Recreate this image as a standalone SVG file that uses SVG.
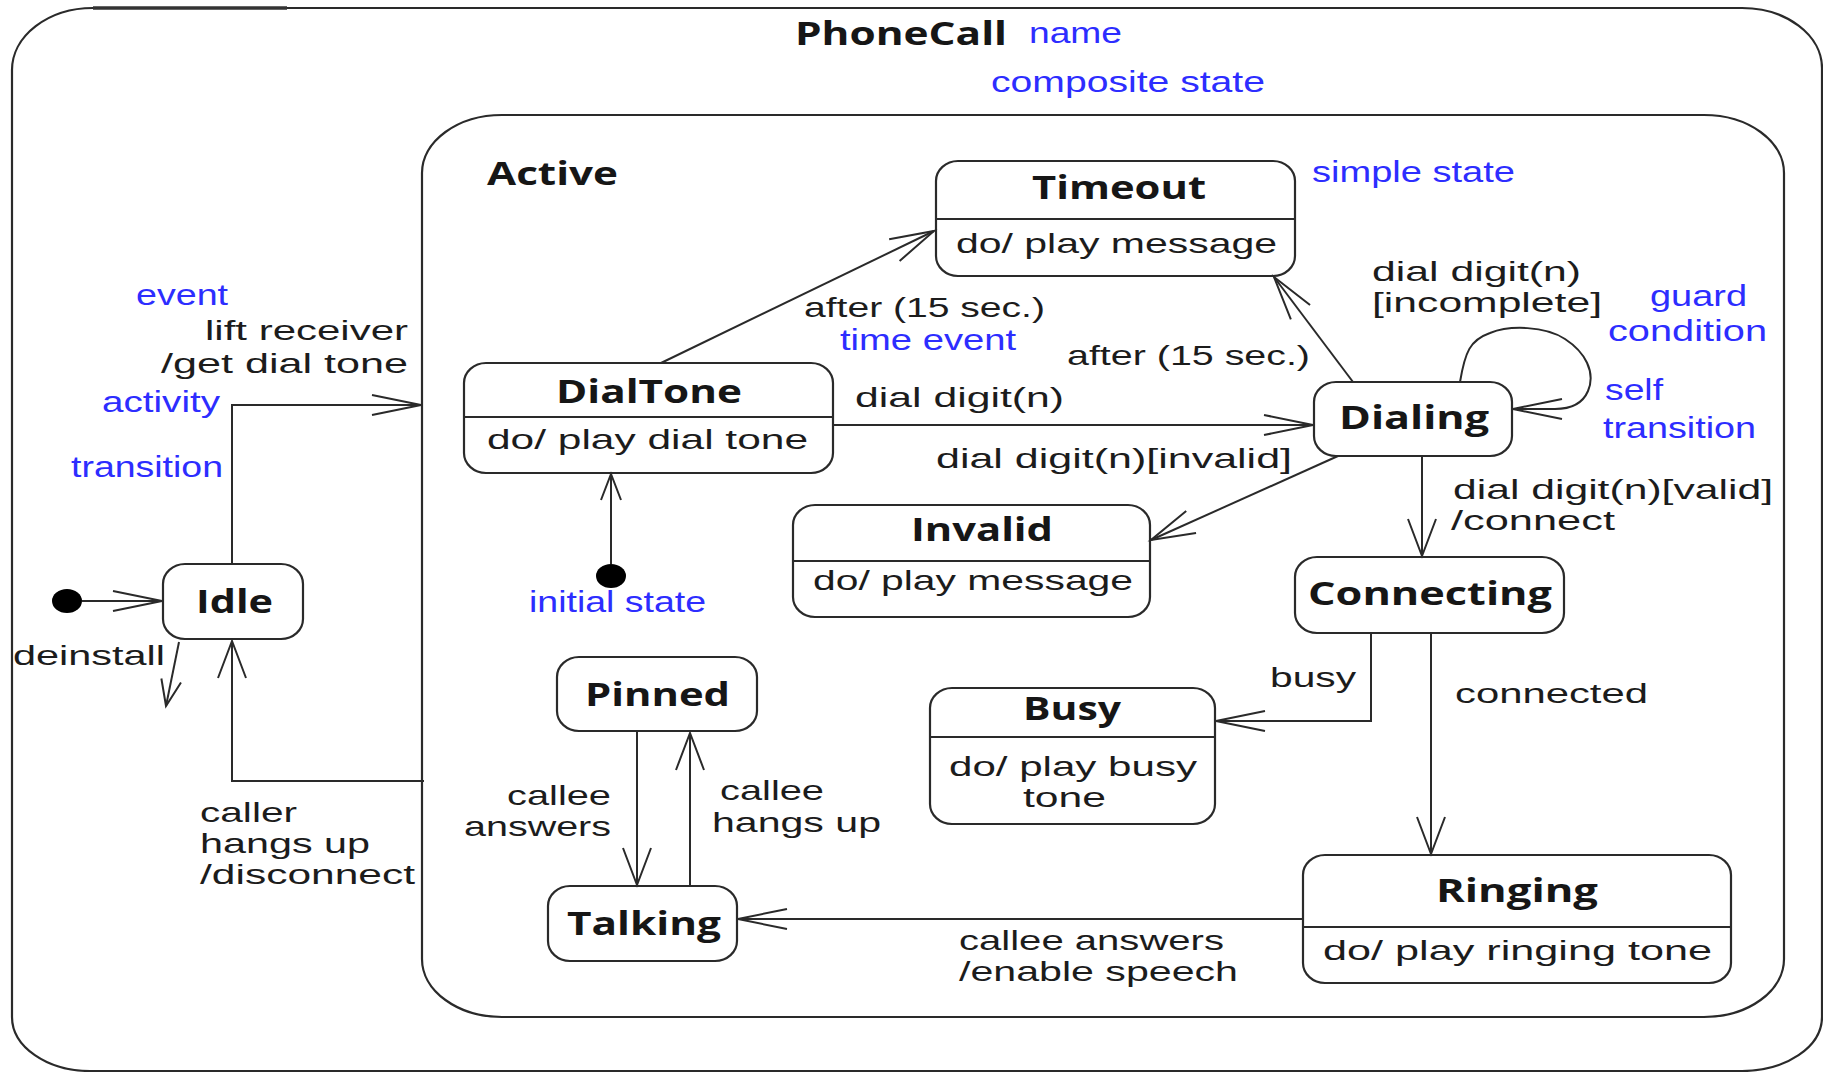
<svg xmlns="http://www.w3.org/2000/svg" width="1823" height="1072" viewBox="0 0 1823 1072">
<style>
  .box { fill: #ffffff; stroke: #2a2a2a; stroke-width: 2.2; }
  .div { stroke: #2a2a2a; stroke-width: 2; fill: none; }
  .edge { fill: none; stroke: #2a2a2a; stroke-width: 2; }
  .dot { fill: #000000; }
  .nm { font-family: "Open Sans", "Noto Sans", "DejaVu Sans", sans-serif; font-size: 32px; font-weight: bold; fill: #161616; }
  .lb { font-family: "Liberation Sans", "DejaVu Sans", sans-serif; font-size: 27.5px; fill: #1c1c1c; }
  .bl { font-family: "Liberation Sans", "DejaVu Sans", sans-serif; font-size: 29px; fill: #2d2dff; }
</style>
<defs>
  <marker id="arrH" markerUnits="userSpaceOnUse" markerWidth="60" markerHeight="30" viewBox="-52 -15 56 30" refX="0" refY="0" orient="auto">
    <path d="M-49,-10 L0,0 L-49,10" fill="none" stroke="#2a2a2a" stroke-width="2"/>
  </marker>
  <marker id="arrV" markerUnits="userSpaceOnUse" markerWidth="46" markerHeight="36" viewBox="-42 -18 46 36" refX="0" refY="0" orient="auto">
    <path d="M-37,-14 L0,0 L-37,14" fill="none" stroke="#2a2a2a" stroke-width="2"/>
  </marker>
  <marker id="arrD" markerUnits="userSpaceOnUse" markerWidth="52" markerHeight="32" viewBox="-48 -16 52 32" refX="0" refY="0" orient="auto">
    <path d="M-44,-12 L0,0 L-44,12" fill="none" stroke="#2a2a2a" stroke-width="2"/>
  </marker>
  <marker id="arrS" markerUnits="userSpaceOnUse" markerWidth="34" markerHeight="28" viewBox="-30 -14 34 28" refX="0" refY="0" orient="auto">
    <path d="M-26,-10 L0,0 L-26,10" fill="none" stroke="#2a2a2a" stroke-width="2"/>
  </marker>
</defs>

<rect x="0" y="0" width="1823" height="1072" fill="#ffffff"/>

<g id="phonecall">
  <path class="box" d="M93,8 H1742 A80,60 0 0 1 1822,68 V1017 A80,54 0 0 1 1742,1071 H90 A78,54 0 0 1 12,1017 V70 A81,62 0 0 1 93,8 Z"/>
  <line x1="93" y1="8" x2="287" y2="8" stroke="#333333" stroke-width="3.5"/>
  <text class="nm" x="795" y="45" textLength="212" lengthAdjust="spacingAndGlyphs">PhoneCall</text>
</g>

<g id="active">
  <rect class="box" x="422" y="115" width="1362" height="902" rx="80" ry="58"/>
  <text class="nm" x="487" y="185" textLength="131" lengthAdjust="spacingAndGlyphs">Active</text>
</g>

<g id="timeout">
  <rect class="box" x="936" y="161" width="359" height="115" rx="22" ry="20"/>
  <line class="div" x1="936" y1="219" x2="1295" y2="219"/>
  <text class="nm" x="1032" y="199" textLength="174" lengthAdjust="spacingAndGlyphs">Timeout</text>
  <text class="lb" x="956" y="253" textLength="321" lengthAdjust="spacingAndGlyphs">do/ play message</text>
</g>

<g id="dialtone">
  <rect class="box" x="464" y="363" width="369" height="110" rx="22" ry="20"/>
  <line class="div" x1="464" y1="417" x2="833" y2="417"/>
  <text class="nm" x="556" y="403" textLength="186" lengthAdjust="spacingAndGlyphs">DialTone</text>
  <text class="lb" x="487" y="449" textLength="321" lengthAdjust="spacingAndGlyphs">do/ play dial tone</text>
</g>

<g id="dialing">
  <rect class="box" x="1314" y="382" width="198" height="74" rx="22" ry="20"/>
  <text class="nm" x="1339" y="429" textLength="150" lengthAdjust="spacingAndGlyphs">Dialing</text>
</g>

<g id="invalid">
  <rect class="box" x="793" y="505" width="357" height="112" rx="22" ry="20"/>
  <line class="div" x1="793" y1="561" x2="1150" y2="561"/>
  <text class="nm" x="911" y="541" textLength="142" lengthAdjust="spacingAndGlyphs">Invalid</text>
  <text class="lb" x="813" y="590" textLength="320" lengthAdjust="spacingAndGlyphs">do/ play message</text>
</g>

<g id="connecting">
  <rect class="box" x="1295" y="557" width="269" height="76" rx="22" ry="20"/>
  <text class="nm" x="1308" y="605" textLength="244" lengthAdjust="spacingAndGlyphs">Connecting</text>
</g>

<g id="idle">
  <rect class="box" x="163" y="564" width="140" height="75" rx="22" ry="20"/>
  <text class="nm" x="196" y="613" textLength="77" lengthAdjust="spacingAndGlyphs">Idle</text>
</g>

<g id="pinned">
  <rect class="box" x="557" y="657" width="200" height="74" rx="22" ry="20"/>
  <text class="nm" x="585" y="706" textLength="145" lengthAdjust="spacingAndGlyphs">Pinned</text>
</g>

<g id="talking">
  <rect class="box" x="548" y="886" width="189" height="75" rx="22" ry="20"/>
  <text class="nm" x="567" y="935" textLength="154" lengthAdjust="spacingAndGlyphs">Talking</text>
</g>

<g id="busy">
  <rect class="box" x="930" y="688" width="285" height="136" rx="22" ry="20"/>
  <line class="div" x1="930" y1="737" x2="1215" y2="737"/>
  <text class="nm" x="1023" y="720" textLength="98" lengthAdjust="spacingAndGlyphs">Busy</text>
  <text class="lb" x="949" y="776" textLength="248" lengthAdjust="spacingAndGlyphs">do/ play busy</text>
  <text class="lb" x="1023" y="807" textLength="83" lengthAdjust="spacingAndGlyphs">tone</text>
</g>

<g id="ringing">
  <rect class="box" x="1303" y="855" width="428" height="128" rx="22" ry="20"/>
  <line class="div" x1="1303" y1="927" x2="1731" y2="927"/>
  <text class="nm" x="1436" y="902" textLength="162" lengthAdjust="spacingAndGlyphs">Ringing</text>
  <text class="lb" x="1323" y="960" textLength="389" lengthAdjust="spacingAndGlyphs">do/ play ringing tone</text>
</g>

<g id="initial-outer">
  <ellipse class="dot" cx="67" cy="601" rx="15" ry="12"/>
</g>

<g id="initial-inner">
  <ellipse class="dot" cx="611" cy="576" rx="15" ry="12"/>
</g>

<g id="connectors">
  <line class="edge" x1="82" y1="601" x2="162" y2="601" marker-end="url(#arrH)"/>
  <path class="edge" d="M232,564 V405 H421" marker-end="url(#arrH)"/>
  <line class="edge" x1="179" y1="642" x2="166" y2="706" marker-end="url(#arrS)"/>
  <path class="edge" d="M424,781 H232 V641" marker-end="url(#arrV)"/>
  <line class="edge" x1="611" y1="564" x2="611" y2="474" marker-end="url(#arrS)"/>
  <line class="edge" x1="661" y1="363" x2="934" y2="231" marker-end="url(#arrD)"/>
  <line class="edge" x1="833" y1="425" x2="1313" y2="425" marker-end="url(#arrH)"/>
  <line class="edge" x1="1353" y1="382" x2="1274" y2="277" marker-end="url(#arrD)"/>
  <path class="edge" d="M1460,382 C1465,352 1470,340 1490,333 C1510,325 1545,326 1565,339 C1585,352 1596,372 1588,391 C1582,405 1570,409 1555,409 L1513,409" marker-end="url(#arrH)"/>
  <line class="edge" x1="1338" y1="456" x2="1151" y2="540" marker-end="url(#arrD)"/>
  <line class="edge" x1="1422" y1="456" x2="1422" y2="556" marker-end="url(#arrV)"/>
  <path class="edge" d="M1371,633 V721 H1216" marker-end="url(#arrH)"/>
  <line class="edge" x1="1431" y1="633" x2="1431" y2="854" marker-end="url(#arrV)"/>
  <line class="edge" x1="1303" y1="919" x2="738" y2="919" marker-end="url(#arrH)"/>
  <line class="edge" x1="637" y1="731" x2="637" y2="885" marker-end="url(#arrV)"/>
  <line class="edge" x1="690" y1="886" x2="690" y2="733" marker-end="url(#arrV)"/>

  <text class="lb" x="205" y="340" textLength="203" lengthAdjust="spacingAndGlyphs">lift receiver</text>
  <text class="lb" x="161" y="373" textLength="247" lengthAdjust="spacingAndGlyphs">/get dial tone</text>
  <text class="lb" x="13" y="665" textLength="152" lengthAdjust="spacingAndGlyphs">deinstall</text>
  <text class="lb" x="200" y="822" textLength="97" lengthAdjust="spacingAndGlyphs">caller</text>
  <text class="lb" x="200" y="853" textLength="170" lengthAdjust="spacingAndGlyphs">hangs up</text>
  <text class="lb" x="200" y="884" textLength="215" lengthAdjust="spacingAndGlyphs">/disconnect</text>
  <text class="lb" x="804" y="317" textLength="241" lengthAdjust="spacingAndGlyphs">after (15 sec.)</text>
  <text class="lb" x="1067" y="365" textLength="243" lengthAdjust="spacingAndGlyphs">after (15 sec.)</text>
  <text class="lb" x="855" y="407" textLength="209" lengthAdjust="spacingAndGlyphs">dial digit(n)</text>
  <text class="lb" x="936" y="468" textLength="356" lengthAdjust="spacingAndGlyphs">dial digit(n)[invalid]</text>
  <text class="lb" x="1372" y="281" textLength="209" lengthAdjust="spacingAndGlyphs">dial digit(n)</text>
  <text class="lb" x="1372" y="312" textLength="230" lengthAdjust="spacingAndGlyphs">[incomplete]</text>
  <text class="lb" x="1453" y="499" textLength="320" lengthAdjust="spacingAndGlyphs">dial digit(n)[valid]</text>
  <text class="lb" x="1451" y="530" textLength="164" lengthAdjust="spacingAndGlyphs">/connect</text>
  <text class="lb" x="1270" y="687" textLength="86" lengthAdjust="spacingAndGlyphs">busy</text>
  <text class="lb" x="1455" y="703" textLength="193" lengthAdjust="spacingAndGlyphs">connected</text>
  <text class="lb" x="959" y="950" textLength="265" lengthAdjust="spacingAndGlyphs">callee answers</text>
  <text class="lb" x="959" y="981" textLength="279" lengthAdjust="spacingAndGlyphs">/enable speech</text>
  <text class="lb" x="507" y="805" textLength="104" lengthAdjust="spacingAndGlyphs">callee</text>
  <text class="lb" x="464" y="836" textLength="147" lengthAdjust="spacingAndGlyphs">answers</text>
  <text class="lb" x="720" y="800" textLength="104" lengthAdjust="spacingAndGlyphs">callee</text>
  <text class="lb" x="712" y="832" textLength="169" lengthAdjust="spacingAndGlyphs">hangs up</text>
</g>

<g id="annotations">
  <text class="bl" x="1029" y="43" textLength="93" lengthAdjust="spacingAndGlyphs">name</text>
  <text class="bl" x="991" y="92" textLength="274" lengthAdjust="spacingAndGlyphs">composite state</text>
  <text class="bl" x="1312" y="182" textLength="203" lengthAdjust="spacingAndGlyphs">simple state</text>
  <text class="bl" x="136" y="305" textLength="92" lengthAdjust="spacingAndGlyphs">event</text>
  <text class="bl" x="102" y="412" textLength="118" lengthAdjust="spacingAndGlyphs">activity</text>
  <text class="bl" x="71" y="477" textLength="152" lengthAdjust="spacingAndGlyphs">transition</text>
  <text class="bl" x="840" y="350" textLength="176" lengthAdjust="spacingAndGlyphs">time event</text>
  <text class="bl" x="1650" y="306" textLength="97" lengthAdjust="spacingAndGlyphs">guard</text>
  <text class="bl" x="1608" y="341" textLength="159" lengthAdjust="spacingAndGlyphs">condition</text>
  <text class="bl" x="1605" y="400" textLength="58" lengthAdjust="spacingAndGlyphs">self</text>
  <text class="bl" x="1603" y="438" textLength="153" lengthAdjust="spacingAndGlyphs">transition</text>
  <text class="bl" x="529" y="612" textLength="177" lengthAdjust="spacingAndGlyphs">initial state</text>
</g>
</svg>
